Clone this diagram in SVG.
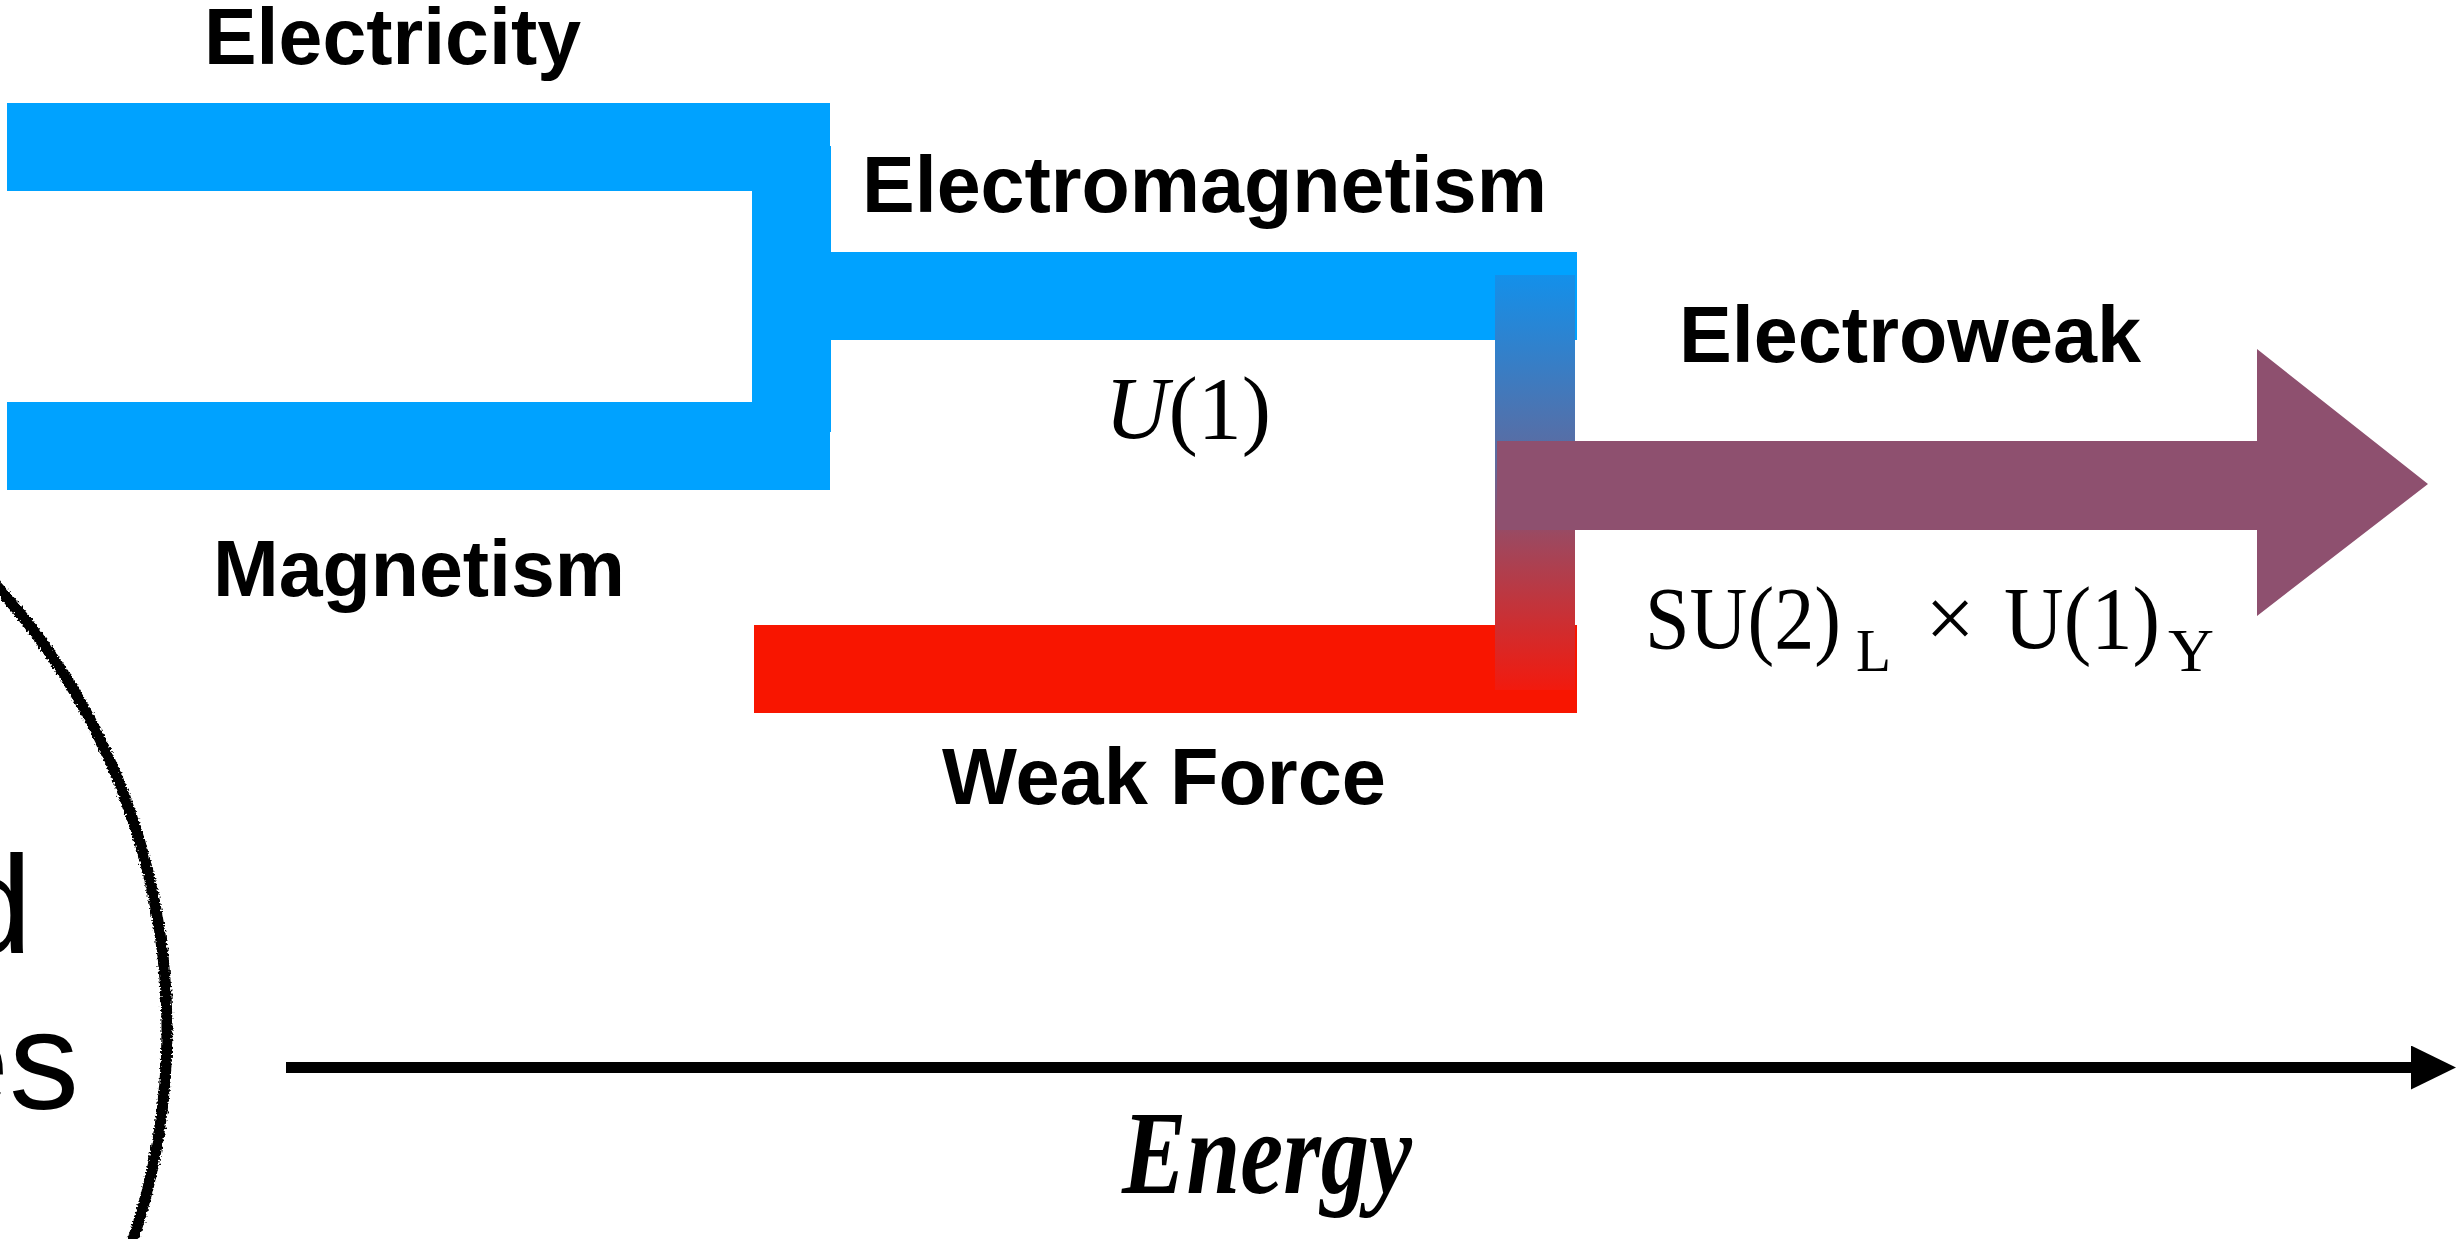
<svg xmlns="http://www.w3.org/2000/svg" width="2460" height="1239" viewBox="0 0 2460 1239">
  <style>
    .lbl { font-family: "Liberation Sans", Arial, sans-serif; font-weight: bold; font-size: 80px; fill: #000; }
    .math { font-family: "Liberation Serif", "Times New Roman", serif; fill: #000; }
    .big { font-family: "Liberation Sans", Arial, sans-serif; font-size: 140px; fill: #000; }
    .blue { fill: #00a2ff; }
    .red { fill: #f81500; }
    .purple { fill: #8e506f; }
  </style>
  <defs>
    <linearGradient id="mix" x1="0" y1="0" x2="0" y2="1">
      <stop offset="0" stop-color="#1390ea"/>
      <stop offset="0.45" stop-color="#5f6a9e"/>
      <stop offset="0.62" stop-color="#9a4a62"/>
      <stop offset="1" stop-color="#f21a0e"/>
    </linearGradient>
    <filter id="rough" x="-10%" y="-10%" width="120%" height="120%">
      <feTurbulence type="fractalNoise" baseFrequency="0.5" numOctaves="2" seed="3" result="n"/>
      <feDisplacementMap in="SourceGraphic" in2="n" scale="6" xChannelSelector="R" yChannelSelector="G"/>
    </filter>
    <marker id="axisHead" markerUnits="userSpaceOnUse" markerWidth="46" markerHeight="44" refX="1" refY="22" orient="auto">
      <polygon points="0,0 45,22 0,44" fill="#000"/>
    </marker>
  </defs>

  <rect width="2460" height="1239" fill="#fff"/>

  <g id="circle-fragment">
    <circle cx="-497" cy="1030" r="664" fill="none" stroke="#000" stroke-width="11" filter="url(#rough)"/>
    <text class="big" x="32" y="953" text-anchor="end">d</text>
    <text class="big" x="79" y="1109" text-anchor="end">es</text>
  </g>

  <g id="electricity">
    <rect class="blue" x="7" y="103" width="823" height="88"/>
    <text class="lbl" x="204" y="64" textLength="377" lengthAdjust="spacingAndGlyphs">Electricity</text>
  </g>

  <g id="magnetism">
    <rect class="blue" x="7" y="402" width="823" height="88"/>
    <text class="lbl" x="213" y="596" textLength="412" lengthAdjust="spacingAndGlyphs">Magnetism</text>
  </g>

  <g id="electromagnetism">
    <rect class="blue" x="829" y="252" width="748" height="88"/>
    <text class="lbl" x="862" y="212" textLength="685" lengthAdjust="spacingAndGlyphs">Electromagnetism</text>
    <text class="math" x="1105" y="438" font-size="88" textLength="166" lengthAdjust="spacingAndGlyphs"><tspan font-style="italic">U</tspan>(1)</text>
  </g>

  <g id="weak-force">
    <rect class="red" x="754" y="625" width="823" height="88"/>
    <text class="lbl" x="942" y="804" textLength="444" lengthAdjust="spacingAndGlyphs">Weak Force</text>
  </g>

  <g id="connectors">
    <rect class="blue" x="752" y="146" width="79" height="286"/>
    <rect fill="url(#mix)" x="1495" y="275" width="80" height="415"/>
  </g>

  <g id="electroweak">
    <polygon class="purple" points="1497,441 2257,441 2257,349 2428,484 2257,616 2257,530 1497,530"/>
    <text class="lbl" x="1679" y="362" textLength="462" lengthAdjust="spacingAndGlyphs">Electroweak</text>
    <text class="math" x="1645" y="648" font-size="88" textLength="196" lengthAdjust="spacingAndGlyphs">SU(2)</text>
    <text class="math" x="1856" y="671" font-size="62" textLength="35" lengthAdjust="spacingAndGlyphs">L</text>
    <text class="math" x="1950" y="648" font-size="88" text-anchor="middle">×</text>
    <text class="math" x="2004" y="648" font-size="88" textLength="156" lengthAdjust="spacingAndGlyphs">U(1)</text>
    <text class="math" x="2168" y="671" font-size="62" textLength="46" lengthAdjust="spacingAndGlyphs">Y</text>
  </g>

  <g id="energy-axis">
    <line x1="286" y1="1067.5" x2="2412" y2="1067.5" stroke="#000" stroke-width="11" marker-end="url(#axisHead)"/>
    <text x="1122" y="1193" font-family="'Liberation Serif', 'Times New Roman', serif" font-style="italic" font-weight="bold" font-size="118" textLength="290" lengthAdjust="spacingAndGlyphs">Energy</text>
  </g>
</svg>
